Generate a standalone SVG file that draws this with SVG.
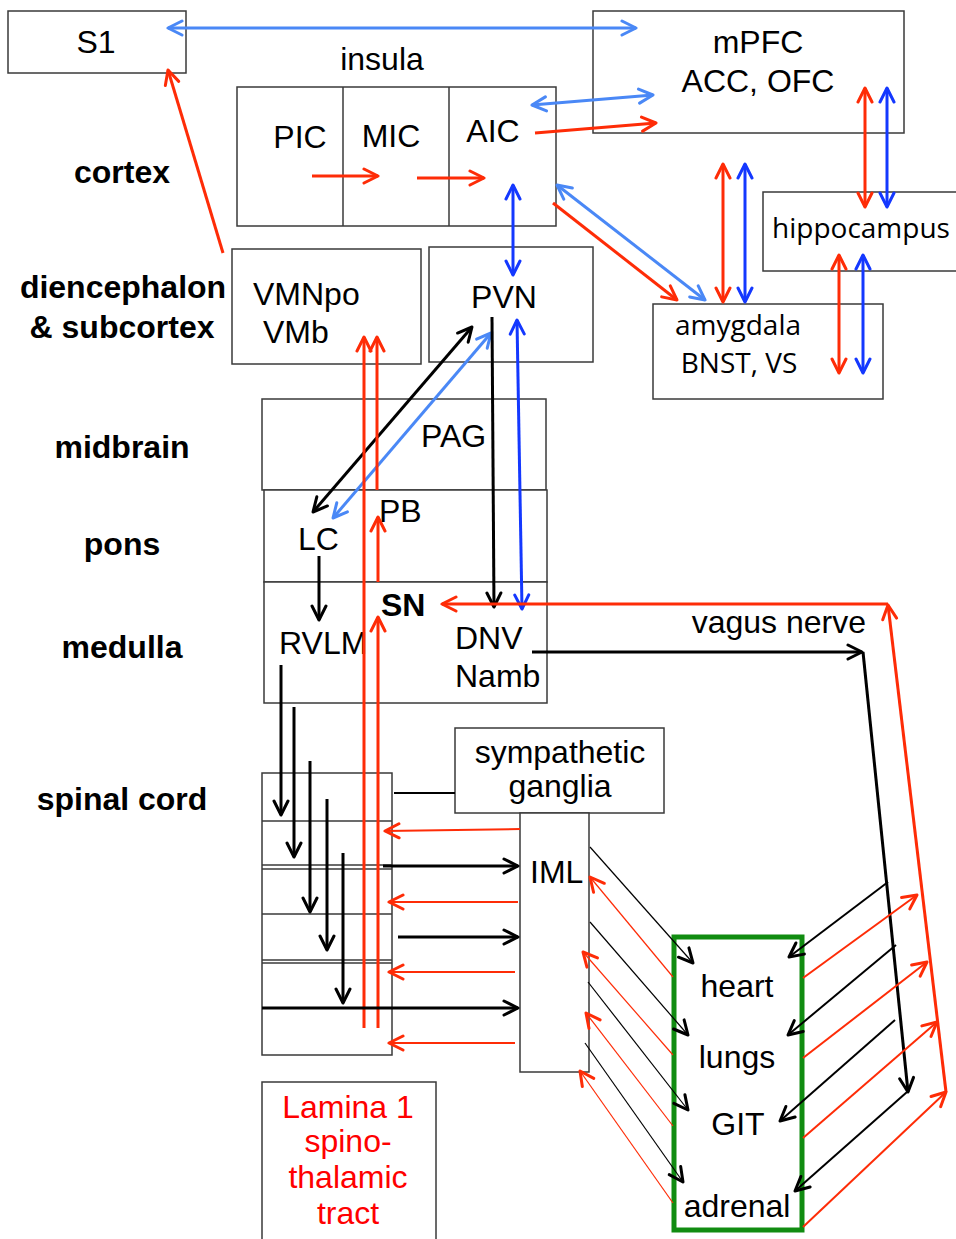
<svg xmlns="http://www.w3.org/2000/svg" width="956" height="1239" viewBox="0 0 956 1239">
<style>
.box{fill:#fff;stroke:#3a3a3a;stroke-width:1.5}
.t{font-family:"Liberation Sans",Arial,sans-serif;font-size:32px;fill:#000}
.o{font-family:"Open Sans","DejaVu Sans",sans-serif;font-size:28px;fill:#000}
.b{font-family:"Liberation Sans",Arial,sans-serif;font-size:32px;font-weight:bold;fill:#000}
.m{text-anchor:middle}
.red{stroke:#fe2c07;fill:none}
.blk{stroke:#000;fill:none}
.lb{stroke:#4a88f6;fill:none}
.db{stroke:#1438ff;fill:none}
.w3{stroke-width:3}
.w2{stroke-width:2}
.w1{stroke-width:1.2}
.rA{marker-end:url(#mr)}
.rAA{marker-start:url(#mr);marker-end:url(#mr)}
.kA{marker-end:url(#mk)}
.kAA{marker-start:url(#mk);marker-end:url(#mk)}
.lAA{marker-start:url(#ml);marker-end:url(#ml)}
.dA{marker-end:url(#md)}
.dAA{marker-start:url(#md);marker-end:url(#md)}
</style>
<defs>
<marker id="mr" viewBox="0 0 18 18" refX="16" refY="9" markerWidth="18" markerHeight="18" markerUnits="userSpaceOnUse" orient="auto-start-reverse"><path d="M2,2 L16,9 L2,16" fill="none" stroke="#fe2c07" stroke-width="3" stroke-linecap="round" stroke-linejoin="round"/></marker>
<marker id="mk" viewBox="0 0 18 18" refX="16" refY="9" markerWidth="18" markerHeight="18" markerUnits="userSpaceOnUse" orient="auto-start-reverse"><path d="M2,2 L16,9 L2,16" fill="none" stroke="#000" stroke-width="3" stroke-linecap="round" stroke-linejoin="round"/></marker>
<marker id="ml" viewBox="0 0 18 18" refX="16" refY="9" markerWidth="18" markerHeight="18" markerUnits="userSpaceOnUse" orient="auto-start-reverse"><path d="M2,2 L16,9 L2,16" fill="none" stroke="#4a88f6" stroke-width="3" stroke-linecap="round" stroke-linejoin="round"/></marker>
<marker id="md" viewBox="0 0 18 18" refX="16" refY="9" markerWidth="18" markerHeight="18" markerUnits="userSpaceOnUse" orient="auto-start-reverse"><path d="M2,2 L16,9 L2,16" fill="none" stroke="#1438ff" stroke-width="3" stroke-linecap="round" stroke-linejoin="round"/></marker>
</defs>
<rect width="956" height="1239" fill="#fff"/>

<g id="labels">
<text class="b m" x="122" y="183">cortex</text>
<text class="b m" x="123" y="298">diencephalon</text>
<text class="b m" x="122" y="338">&amp; subcortex</text>
<text class="b m" x="122" y="458">midbrain</text>
<text class="b m" x="122" y="555">pons</text>
<text class="b m" x="122" y="658">medulla</text>
<text class="b m" x="122" y="810">spinal cord</text>
</g>

<g id="S1"><rect class="box" x="8" y="11" width="178" height="62"/><text class="t m" x="96" y="53">S1</text></g>
<g id="mPFC"><rect class="box" x="593" y="11" width="311" height="122"/><text class="t m" x="758" y="53">mPFC</text><text class="t m" x="758" y="92">ACC, OFC</text></g>
<g id="insula">
<text class="t m" x="382" y="70">insula</text>
<rect class="box" x="237" y="87" width="319" height="139"/>
<line class="box" x1="343" y1="87" x2="343" y2="226"/>
<line class="box" x1="449" y1="87" x2="449" y2="226"/>
</g>
<g id="PIC"><text class="t m" x="300" y="148">PIC</text></g>
<g id="MIC"><text class="t m" x="391" y="147">MIC</text></g>
<g id="AIC"><text class="t m" x="493" y="142">AIC</text></g>
<g id="hippocampus"><rect class="box" x="763" y="192" width="200" height="79"/><text class="o m" x="861" y="238">hippocampus</text></g>
<g id="amygdala"><rect class="box" x="653" y="304" width="230" height="95"/><text class="o m" x="738" y="335">amygdala</text><text class="o m" x="739" y="373">BNST, VS</text></g>
<g id="VMNpo"><rect class="box" x="232" y="249" width="189" height="115"/><text class="t" x="253" y="305">VMNpo</text><text class="t" x="263" y="343">VMb</text></g>
<g id="PVN"><rect class="box" x="429" y="247" width="164" height="115"/><text class="t m" x="504" y="308">PVN</text></g>
<g id="PAG"><rect class="box" x="262" y="399" width="284" height="91"/><text class="t" x="421" y="447">PAG</text></g>
<g id="pons"><rect class="box" x="264" y="490" width="283" height="92"/><text class="t" x="379" y="522">PB</text><text class="t" x="298" y="550">LC</text></g>
<g id="medulla"><rect class="box" x="264" y="582" width="283" height="121"/>
<text class="b" x="381" y="616">SN</text>
<text class="t" x="279" y="654">RVLM</text>
<text class="t" x="455" y="649">DNV</text>
<text class="t" x="455" y="687">Namb</text></g>
<g id="spinal">
<rect class="box" x="262" y="773" width="130" height="282"/>
<line class="box" x1="262" y1="821" x2="392" y2="821"/>
<line class="box" x1="262" y1="865" x2="392" y2="865"/>
<line class="box" x1="262" y1="869" x2="392" y2="869"/>
<line class="box" x1="262" y1="914" x2="392" y2="914"/>
<line class="box" x1="262" y1="960" x2="392" y2="960"/>
<line class="box" x1="262" y1="963" x2="392" y2="963"/>
<line class="box" x1="262" y1="1008" x2="392" y2="1008"/>
</g>
<g id="ganglia"><rect class="box" x="455" y="728" width="209" height="85"/><text class="t m" x="560" y="763">sympathetic</text><text class="t m" x="560" y="797">ganglia</text></g>
<g id="IML"><rect class="box" x="520" y="813" width="69" height="259"/><text class="t" x="530" y="883">IML</text></g>
<g id="lamina"><rect class="box" x="262" y="1082" width="174" height="170"/>
<text class="t m" x="348" y="1118" fill="#ff0000" style="fill:#ff0000">Lamina 1</text>
<text class="t m" x="348" y="1152" style="fill:#ff0000">spino-</text>
<text class="t m" x="348" y="1188" style="fill:#ff0000">thalamic</text>
<text class="t m" x="348" y="1224" style="fill:#ff0000">tract</text></g>
<g id="organs"><rect x="674" y="937" width="128" height="293" fill="#fff" stroke="#118c11" stroke-width="5"/>
<text class="t m" x="737" y="997">heart</text>
<text class="t m" x="737" y="1068">lungs</text>
<text class="t m" x="738" y="1135">GIT</text>
<text class="t m" x="737" y="1217">adrenal</text></g>
<g id="vagus"><text class="t" x="866" y="633" text-anchor="end">vagus nerve</text></g>

<g id="connectors">
<!-- top -->
<line class="lb w3 lAA" x1="168" y1="28" x2="636" y2="28"/>
<line class="red w3 rA" x1="223" y1="253" x2="168" y2="70"/>
<line class="red w3 rA" x1="312" y1="176" x2="378" y2="176"/>
<line class="red w3 rA" x1="417" y1="178" x2="484" y2="178"/>
<line class="lb w3 lAA" x1="532" y1="105" x2="653" y2="95"/>
<line class="red w3 rA" x1="535" y1="133" x2="656" y2="123"/>
<line class="db w3 dAA" x1="513" y1="185" x2="513" y2="275"/>
<line class="lb w3 lAA" x1="557" y1="185" x2="705" y2="300"/>
<line class="red w3 rA" x1="553" y1="203" x2="677" y2="300"/>
<line class="red w3 rAA" x1="865" y1="88" x2="865" y2="207"/>
<line class="db w3 dAA" x1="887" y1="88" x2="887" y2="207"/>
<line class="red w3 rAA" x1="723" y1="164" x2="723" y2="302"/>
<line class="db w3 dAA" x1="745" y1="164" x2="745" y2="302"/>
<line class="red w3 rAA" x1="839" y1="255" x2="839" y2="373"/>
<line class="db w3 dAA" x1="863" y1="255" x2="863" y2="373"/>
<!-- PVN -->
<line class="blk w3 kAA" x1="313" y1="512" x2="472" y2="327"/>
<line class="lb w3 lAA" x1="333" y1="518" x2="491" y2="333"/>
<line class="blk w3 kA" x1="492" y1="317" x2="494" y2="607"/>
<line class="db w3 dAA" x1="517" y1="320" x2="522" y2="609"/>
<!-- red ascending -->
<line class="red w3 rA" x1="364" y1="1028" x2="364" y2="337"/>
<line class="red w3 rA" x1="378" y1="1028" x2="378" y2="617"/>
<line class="red w3 rA" x1="378" y1="582" x2="378" y2="517"/>
<line class="red w3 rA" x1="377" y1="490" x2="377" y2="337"/>
<!-- LC -->
<line class="blk w3 kA" x1="319" y1="556" x2="319" y2="620"/>
<!-- RVLM descending -->
<line class="blk w3 kA" x1="281" y1="665" x2="281" y2="815"/>
<line class="blk w3 kA" x1="294" y1="707" x2="294" y2="857"/>
<line class="blk w3 kA" x1="310" y1="761" x2="310" y2="912"/>
<line class="blk w3 kA" x1="327" y1="799" x2="327" y2="950"/>
<line class="blk w3 kA" x1="343" y1="853" x2="343" y2="1003"/>
<!-- spinal <-> IML -->
<line class="blk w2" x1="394" y1="793" x2="455" y2="793"/>
<line class="red w2 rA" x1="520" y1="829" x2="385" y2="831"/>
<line class="blk w3 kA" x1="383" y1="866" x2="518" y2="866"/>
<line class="red w2 rA" x1="518" y1="902" x2="389" y2="902"/>
<line class="blk w3 kA" x1="398" y1="937" x2="518" y2="937"/>
<line class="red w2 rA" x1="515" y1="972" x2="389" y2="972"/>
<line class="blk w3 kA" x1="262" y1="1008" x2="518" y2="1008"/>
<line class="red w2 rA" x1="515" y1="1043" x2="389" y2="1043"/>
<!-- IML <-> organs -->
<line class="blk w1 kA" x1="590" y1="847" x2="693" y2="963"/>
<line class="blk w1 kA" x1="590" y1="922" x2="688" y2="1035"/>
<line class="blk w1 kA" x1="588" y1="982" x2="688" y2="1110"/>
<line class="blk w1 kA" x1="585" y1="1043" x2="683" y2="1182"/>
<line class="red w1 rA" x1="673" y1="977" x2="590" y2="877"/>
<line class="red w1 rA" x1="673" y1="1055" x2="583" y2="952"/>
<line class="red w1 rA" x1="673" y1="1126" x2="586" y2="1013"/>
<line class="red w1 rA" x1="673" y1="1203" x2="580" y2="1071"/>
<!-- vagus -->
<line class="red w3 rA" x1="888" y1="604" x2="442" y2="604"/>
<line class="red w3 rA" x1="946" y1="1092" x2="888" y2="605"/>
<line class="blk w3 kA" x1="532" y1="652" x2="862" y2="652"/>
<line class="blk w3 kA" x1="863" y1="652" x2="908" y2="1092"/>
<line class="blk w2 kA" x1="888" y1="882" x2="789" y2="957"/>
<line class="blk w2 kA" x1="896" y1="945" x2="788" y2="1035"/>
<line class="blk w2 kA" x1="895" y1="1020" x2="780" y2="1121"/>
<line class="blk w2 kA" x1="907" y1="1092" x2="795" y2="1191"/>
<line class="red w2 rA" x1="803" y1="978" x2="917" y2="895"/>
<line class="red w2 rA" x1="803" y1="1058" x2="927" y2="962"/>
<line class="red w2 rA" x1="803" y1="1138" x2="937" y2="1022"/>
<line class="red w2 rA" x1="803" y1="1227" x2="946" y2="1092"/>
</g>
</svg>
